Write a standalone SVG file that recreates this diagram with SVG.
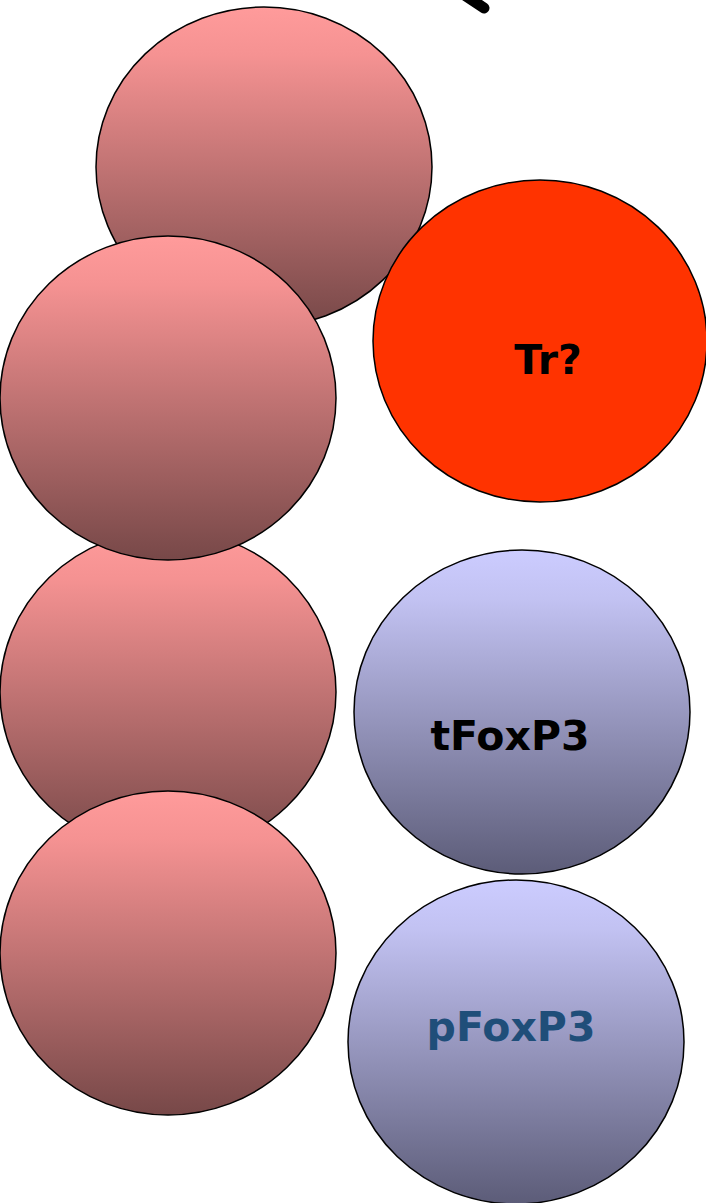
<svg xmlns="http://www.w3.org/2000/svg" width="706" height="1203" viewBox="0 0 706 1203">
<style>
.c{stroke:#000;stroke-width:1.5}
.t{font-family:"DejaVu Sans","Liberation Sans",sans-serif;font-weight:bold;font-size:41px;text-anchor:middle}
</style>
<defs>
<linearGradient id="pink" x1="0" y1="0" x2="0" y2="1">
<stop offset="0" stop-color="#FF9B9B"/><stop offset="0.15" stop-color="#F59292"/><stop offset="1" stop-color="#774848"/>
</linearGradient>
<linearGradient id="blue" x1="0" y1="0" x2="0" y2="1">
<stop offset="0" stop-color="#CCCCFF"/><stop offset="0.15" stop-color="#C2C2F2"/><stop offset="1" stop-color="#5C5C78"/>
</linearGradient>
</defs>
<line x1="463" y1="-6" x2="484" y2="8" stroke="#000" stroke-width="11" stroke-linecap="round"/>
<g id="pink1"><ellipse class="c" cx="264" cy="167" rx="168" ry="160" fill="url(#pink)"/></g>
<g id="tr"><ellipse class="c" cx="540" cy="341" rx="167" ry="161" fill="#FF3300"/><text class="t" x="548" y="374">Tr?</text></g>
<g id="pink3"><ellipse class="c" cx="168" cy="692" rx="168" ry="162" fill="url(#pink)"/></g>
<g id="pink2"><ellipse class="c" cx="168" cy="398" rx="168" ry="162" fill="url(#pink)"/></g>
<g id="pink4"><ellipse class="c" cx="168" cy="953" rx="168" ry="162" fill="url(#pink)"/></g>
<g id="tfoxp3"><ellipse class="c" cx="522" cy="712" rx="168" ry="162" fill="url(#blue)"/><text class="t" x="510" y="750">tFoxP3</text></g>
<g id="pfoxp3"><ellipse class="c" cx="516" cy="1042" rx="168" ry="162" fill="url(#blue)"/><text class="t" x="511" y="1041" fill="#1F4E79">pFoxP3</text></g>
<g id="connectors"/>
</svg>
